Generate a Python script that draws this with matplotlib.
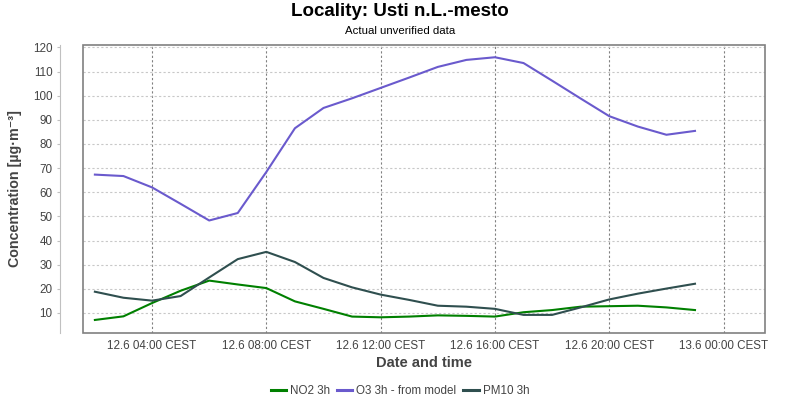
import numpy as np
import pandas as pd
import matplotlib
matplotlib.use("Agg")
import matplotlib.pyplot as plt
import matplotlib.dates as mdates
from matplotlib.patches import Rectangle

plt.rcParams['font.family'] = ['Liberation Sans', 'DejaVu Sans']

# hourly values 12.6 02:00 ... 12.6 23:00
times = pd.date_range("2024-06-12 02:00", periods=22, freq="h")
no2 = [7.1, 8.6, 14.1, 19.2, 23.4, 21.8, 20.3, 14.8, 11.7, 8.5, 8.2,
       8.5, 9.0, 8.8, 8.5, 10.3, 11.2, 12.6, 12.8, 13.0, 12.3, 11.2]
o3 = [67.3, 66.7, 62.0, 55.2, 48.3, 51.4, 68.4, 86.5, 94.9, 98.9, 103.2,
      107.5, 111.9, 114.8, 115.9, 113.5, 106.2, 98.8, 91.5, 87.2, 83.8, 85.4]
pm10 = [18.8, 16.3, 15.1, 17.0, 24.7, 32.3, 35.3, 31.1, 24.5, 20.6, 17.6,
        15.4, 13.0, 12.6, 11.7, 9.2, 9.2, 12.3, 15.6, 18.0, 20.1, 22.1]

series_names = ["NO2 3h", "O3 3h - from model", "PM10 3h"]
series_colors = ["#008000", "#6a5acd", "#2f4f4f"]

tick_times = pd.to_datetime(["2024-06-12 04:00", "2024-06-12 08:00", "2024-06-12 12:00",
                             "2024-06-12 16:00", "2024-06-12 20:00", "2024-06-13 00:00"])
tick_labels = ["12.6 04:00 CEST", "12.6 08:00 CEST", "12.6 12:00 CEST",
               "12.6 16:00 CEST", "12.6 20:00 CEST", "13.6 00:00 CEST"]
y_ticks = list(range(10, 121, 10))

fig = plt.figure(figsize=(8, 4), dpi=100)
ax = fig.add_axes([82.5 / 800, 67 / 400, 682.5 / 800, 288.3 / 400])

for vals, name, col in zip([no2, o3, pm10], series_names, series_colors):
    ax.plot(times, vals, color=col, lw=1.5, label=name, zorder=3)

ax.set_xlim(pd.Timestamp("2024-06-12 01:34"), pd.Timestamp("2024-06-13 01:27"))
ax.set_ylim(1.7, 121.1)

ax.set_xticks(tick_times)
ax.set_xticklabels(tick_labels)
ax.set_yticks(y_ticks)

for t in tick_times:
    ax.axvline(t, color="#808080", lw=0.8, ls=(0, (2, 2)), zorder=1)
for v in y_ticks:
    ax.axhline(v, color="#c8c8c8", lw=0.8, ls=(0, (2, 2)), zorder=1)

for s in ["top", "right", "bottom"]:
    ax.spines[s].set_visible(False)
ax.spines["left"].set_position(("outward", 16))
ax.spines["left"].set_color("#c0c0c0")
ax.add_patch(Rectangle((0, 0), 1, 1, transform=ax.transAxes, fill=False,
                       ec="#808080", lw=1.2, clip_on=False, zorder=4))

ax.tick_params(axis="x", length=0, pad=5, labelsize=8.4, labelcolor="#444444")
ax.tick_params(axis="y", length=2.5, color="#c0c0c0", pad=3, labelsize=8.4,
               labelcolor="#444444")

ax.set_xlabel("Date and time", fontsize=10.5, fontweight="bold", color="#444444", labelpad=3)
ax.set_ylabel("Concentration [µg·m⁻³]", fontsize=10.3, fontweight="bold", color="#444444")
ax.yaxis.set_label_coords(-0.0886, 0.5)

fig.text(0.5, 0.97, "Locality: Usti n.L.-mesto", ha="center", va="center",
         fontsize=13.5, fontweight="bold")
fig.text(0.5, 0.9225, "Actual unverified data", ha="center", va="center", fontsize=8.2)

leg = fig.legend(loc="center", bbox_to_anchor=(0.5, 0.0235), ncol=3, frameon=False,
                 fontsize=8.4, handlelength=1.3, handletextpad=0.35, columnspacing=0.6,
                 labelcolor="#444444")
for line in leg.get_lines():
    line.set_linewidth(2.2)

fig.savefig("out.png", dpi=100)
